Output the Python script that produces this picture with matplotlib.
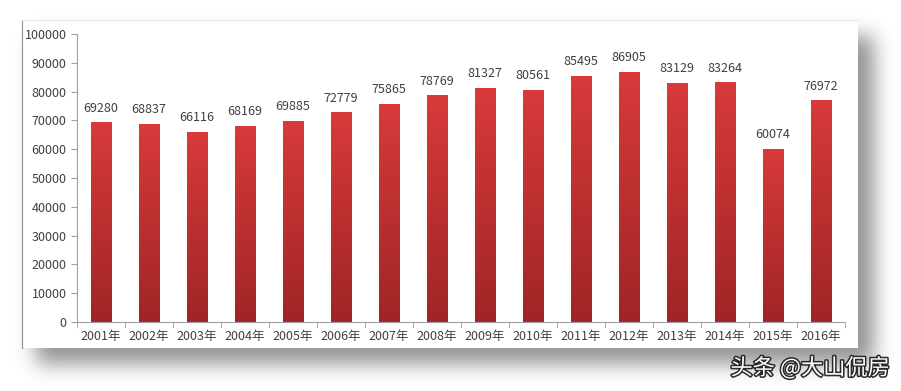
import matplotlib
matplotlib.use('Agg')
import matplotlib.pyplot as plt
import matplotlib.patheffects as pe
from matplotlib.patches import Rectangle
import numpy as np

plt.rcParams['font.family'] = ['Noto Sans CJK SC', 'DejaVu Sans']

years = ['2001年', '2002年', '2003年', '2004年', '2005年', '2006年', '2007年', '2008年',
         '2009年', '2010年', '2011年', '2012年', '2013年', '2014年', '2015年', '2016年']
values = [69280, 68837, 66116, 68169, 69885, 72779, 75865, 78769,
          81327, 80561, 85495, 86905, 83129, 83264, 60074, 76972]

W, H = 901, 391
fig = plt.figure(figsize=(W / 100, H / 100), dpi=100)
fig.patch.set_facecolor('white')

# blurred drop shadow behind the panel
mask = np.zeros((H, W))
mask[36:364, 36:874] = 1.0
k = np.exp(-0.5 * (np.arange(-30, 31) / 10.0) ** 2)
k /= k.sum()
mask = np.apply_along_axis(lambda r: np.convolve(r, k, mode='same'), 1, mask)
mask = np.apply_along_axis(lambda c: np.convolve(c, k, mode='same'), 0, mask)
rgba = np.zeros((H, W, 4))
rgba[..., :3] = 0.3
rgba[..., 3] = mask * 0.6
bg = fig.add_axes([0, 0, 1, 1])
bg.imshow(rgba, extent=(0, W, H, 0), aspect='auto', interpolation='bilinear')
bg.set_xlim(0, W)
bg.set_ylim(H, 0)
bg.axis('off')
bg.add_patch(Rectangle((22, 20), 836, 328, facecolor='white', edgecolor='none', zorder=3))
bg.plot([22, 22], [20, 348], color='#9a9a9a', lw=0.9, zorder=4)
bg.plot([22, 858], [20, 20], color='#e8e8e8', lw=0.8, zorder=4)

ax = fig.add_axes([77 / W, 69 / H, 768 / W, 288 / H])
ax.patch.set_alpha(0)

x = np.arange(len(years))
bw = 0.42
bars = ax.bar(x, values, width=bw, color='none', edgecolor='none')

cmap = matplotlib.colors.LinearSegmentedColormap.from_list('r', ['#a02525', '#d83a3a'])
grad = np.linspace(0, 1, 256).reshape(-1, 1)
for b in bars:
    bx = b.get_x()
    bh = b.get_height()
    im = ax.imshow(grad, cmap=cmap, origin='lower', aspect='auto',
                   extent=(bx, bx + bw, 0, bh), zorder=2)
    im.set_clip_path(b)

for xi, v in zip(x, values):
    ax.text(xi, v + 2600, str(v), ha='center', va='bottom', fontsize=9, color='#404040')

ax.set_xlim(-0.5, len(years) - 0.5)
ax.set_ylim(0, 100000)
ax.set_yticks(range(0, 100001, 10000))
ax.set_xticks(x)
ax.set_xticklabels(years)
ax.set_xticks(np.arange(-0.5, len(years)), minor=True)
ax.tick_params(axis='x', which='major', length=0, pad=6, labelsize=9, labelcolor='#404040')
ax.tick_params(axis='x', which='minor', length=4, color='#a0a0a0', direction='out')
ax.tick_params(axis='y', length=4, color='#a0a0a0', labelsize=9, labelcolor='#404040')
for s in ['top', 'right']:
    ax.spines[s].set_visible(False)
for s in ['left', 'bottom']:
    ax.spines[s].set_color('#a0a0a0')
    ax.spines[s].set_linewidth(0.8)

fig.text(890 / W, 1 - 368 / H, '头条 @大山侃房', ha='right', va='center', fontsize=16,
         color='white', zorder=5,
         path_effects=[pe.withStroke(linewidth=2.2, foreground='#2a2a2a')])

plt.savefig('out.png', dpi=100)
